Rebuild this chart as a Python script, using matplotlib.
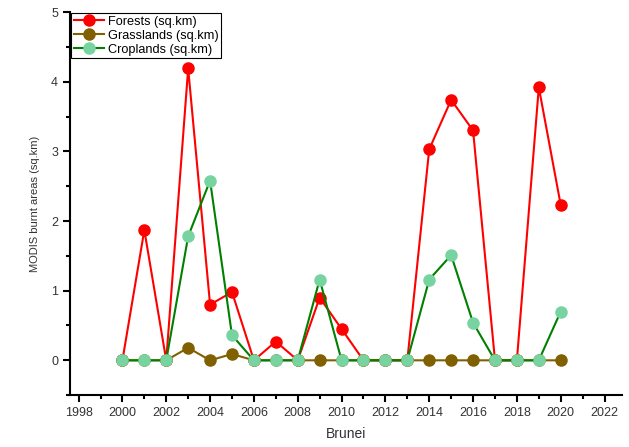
import matplotlib
matplotlib.use('Agg')
import matplotlib.pyplot as plt
from matplotlib.ticker import MultipleLocator

plt.rcParams['font.family'] = ['Liberation Sans', 'DejaVu Sans']

years = list(range(2000, 2021))
forests = [0, 1.87, 0, 4.19, 0.80, 0.98, 0, 0.27, 0, 0.90, 0.45,
           0, 0, 0, 3.03, 3.74, 3.30, 0, 0, 3.92, 2.23]
grasslands = [0, 0, 0, 0.18, 0, 0.09, 0, 0, 0, 0, 0,
              0, 0, 0, 0, 0, 0, 0, 0, 0, 0]
croplands = [0, 0, 0, 1.78, 2.58, 0.36, 0, 0, 0, 1.16, 0,
             0, 0, 0, 1.16, 1.51, 0.54, 0, 0, 0, 0.70]

fig = plt.figure(figsize=(6.29, 4.47), dpi=100)
ax = fig.add_axes([0.111, 0.116, 0.878, 0.857])

ax.plot(years, forests, color='#ff0000', lw=1.5, marker='o', ms=8,
        mfc='#ff0000', mec='#ff0000', label='Forests (sq.km)', zorder=2)
ax.plot(years, grasslands, color='#806000', lw=1.5, marker='o', ms=8,
        mfc='#806000', mec='#806000', label='Grasslands (sq.km)', zorder=3)
ax.plot(years, croplands, color='#008000', lw=1.5, marker='o', ms=8,
        mfc='#77d4a0', mec='#77d4a0', label='Croplands (sq.km)', zorder=4)

ax.set_xlim(1997.6, 2022.8)
ax.set_ylim(-0.5, 5)
ax.xaxis.set_major_locator(MultipleLocator(2))
ax.xaxis.set_minor_locator(MultipleLocator(1))
ax.yaxis.set_major_locator(MultipleLocator(1))
ax.yaxis.set_minor_locator(MultipleLocator(0.5))

for s in ['top', 'right']:
    ax.spines[s].set_visible(False)
for s in ['left', 'bottom']:
    ax.spines[s].set_linewidth(1.5)

ax.tick_params(which='major', direction='out', length=5, width=1.5, labelsize=9, colors='black')
ax.tick_params(which='minor', direction='out', length=3, width=1.5)
for lbl in ax.get_xticklabels() + ax.get_yticklabels():
    lbl.set_color('#333333')

ax.set_xlabel('Brunei', fontsize=10, color='#333333', labelpad=6)
ax.set_ylabel('MODIS burnt areas (sq.km)', fontsize=8, color='#333333', labelpad=8)

leg = ax.legend(loc='upper left', bbox_to_anchor=(0.0, 1.0), fontsize=9.2, frameon=True,
                fancybox=False, edgecolor='black', framealpha=1, borderpad=0.2,
                labelspacing=0.15, handlelength=2.4, handletextpad=0.3, borderaxespad=0.1)
leg.get_frame().set_linewidth(0.8)

fig.savefig('out.png', dpi=100)
